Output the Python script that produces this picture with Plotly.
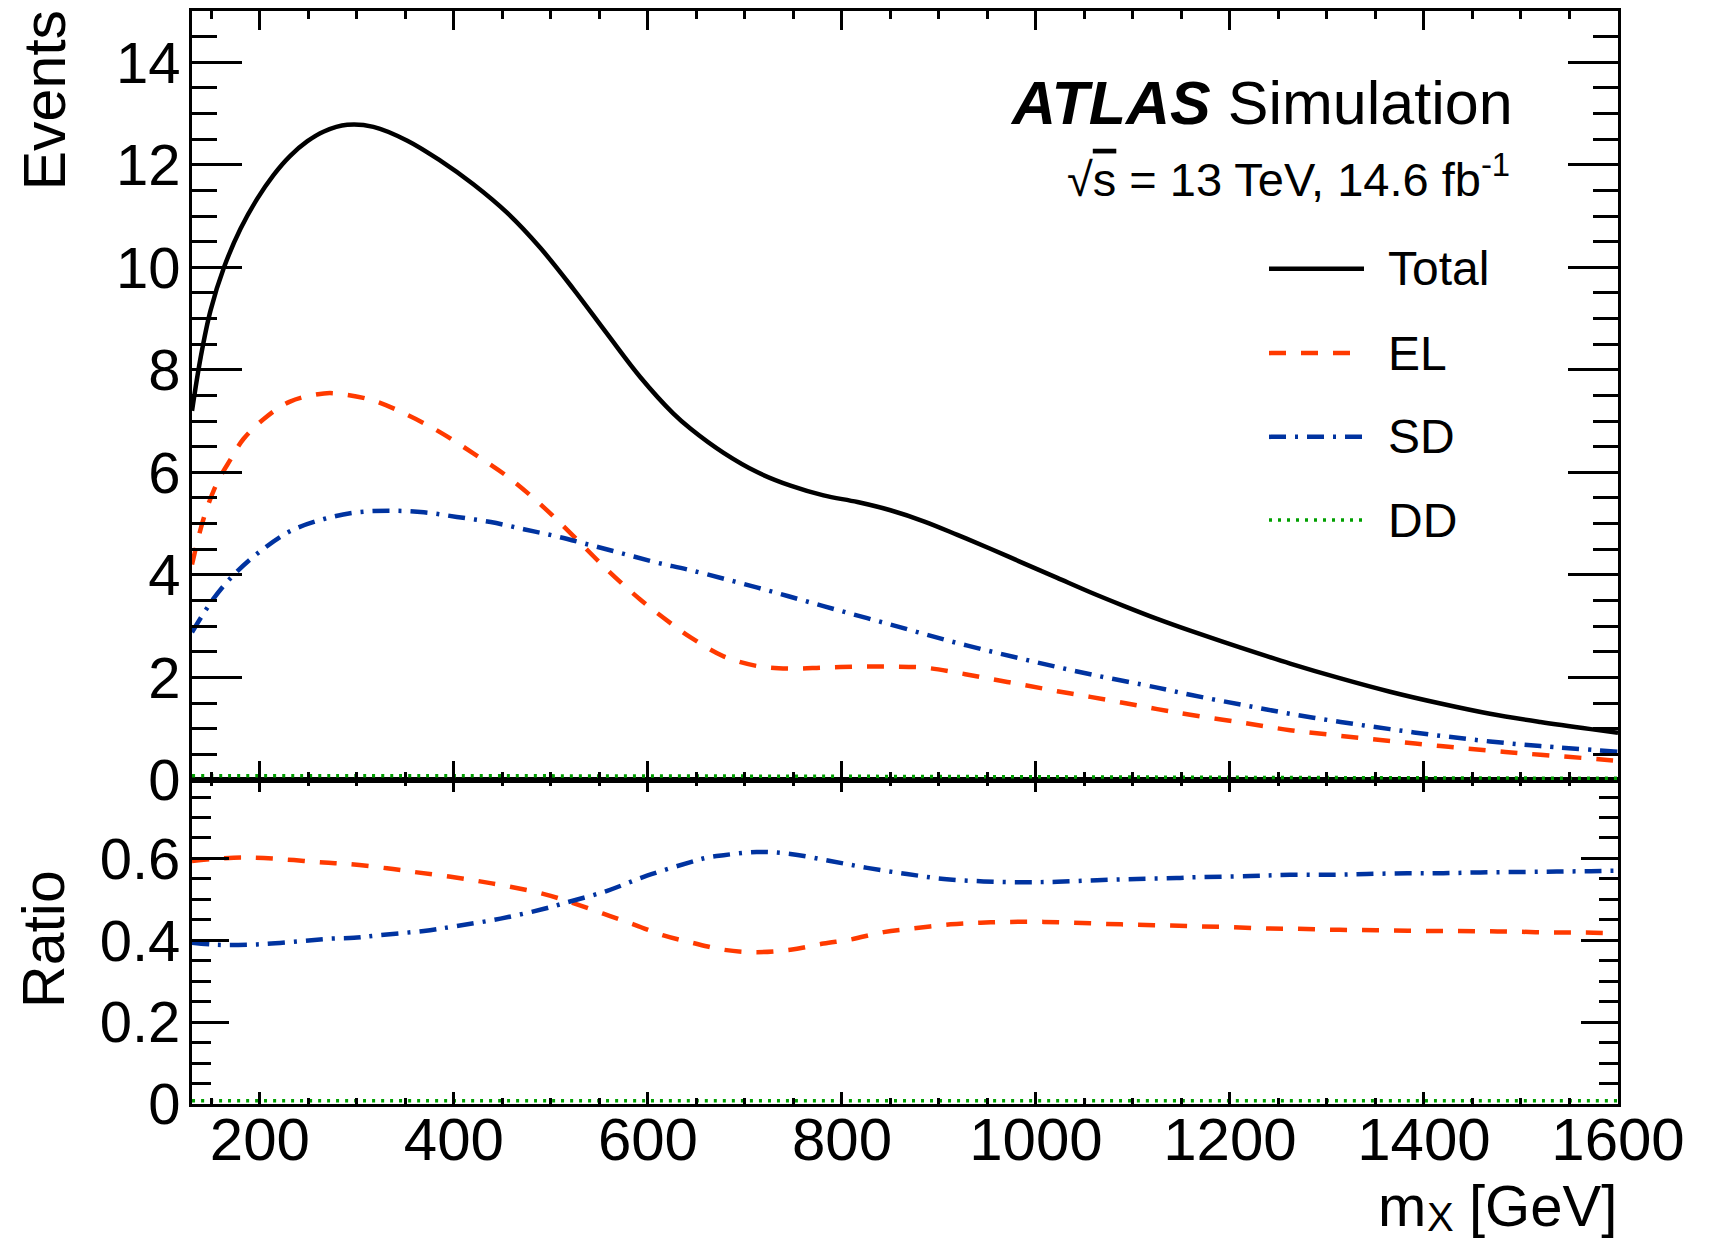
import plotly.graph_objects as go

# ---------------- data ----------------
mx_total = [130, 139, 149, 163, 180, 197, 214, 231, 249, 266, 290, 317, 352, 386, 420, 455, 489, 523,
            558, 592, 626, 644, 678, 713, 747, 781, 816, 850, 885, 919, 953, 988, 1022, 1056, 1091,
            1125, 1159, 1211, 1262, 1314, 1365, 1417, 1468, 1520, 1572, 1600]
ev_total = [7.2, 8.25, 9.15, 10.0, 10.75, 11.33, 11.8, 12.17, 12.46, 12.65, 12.78, 12.74, 12.47, 12.08,
            11.62, 11.06, 10.38, 9.58, 8.7, 7.86, 7.15, 6.85, 6.38, 6.0, 5.74, 5.55, 5.42, 5.26, 5.04,
            4.78, 4.51, 4.22, 3.94, 3.66, 3.39, 3.14, 2.91, 2.58, 2.27, 1.98, 1.72, 1.49, 1.29, 1.13,
            0.99, 0.92]

mx_el = [130, 142, 156, 170, 183, 204, 231, 266, 283, 317, 352, 386, 420, 455, 489, 523, 558, 592, 626,
         644, 678, 713, 747, 781, 816, 850, 885, 919, 953, 988, 1022, 1056, 1091, 1125, 1159, 1211,
         1262, 1314, 1365, 1417, 1468, 1520, 1589, 1600]
ev_el = [4.2, 5.1, 5.8, 6.26, 6.65, 7.04, 7.38, 7.54, 7.53, 7.4, 7.12, 6.78, 6.37, 5.92, 5.38, 4.76, 4.1,
         3.52, 3.02, 2.78, 2.41, 2.22, 2.17, 2.19, 2.21, 2.21, 2.19, 2.09, 1.97, 1.85, 1.73, 1.62, 1.50,
         1.38, 1.27, 1.12, 0.97, 0.86, 0.76, 0.66, 0.57, 0.49, 0.39, 0.37]

mx_sd = [130, 152, 173, 197, 231, 266, 300, 334, 369, 403, 438, 472, 506, 541, 575, 609, 644, 713, 781,
         850, 919, 988, 1056, 1125, 1159, 1211, 1262, 1314, 1365, 1417, 1468, 1520, 1600]
ev_sd = [2.88, 3.53, 4.0, 4.41, 4.85, 5.09, 5.22, 5.25, 5.22, 5.13, 5.03, 4.89, 4.75, 4.58, 4.41, 4.24,
         4.09, 3.75, 3.39, 3.03, 2.67, 2.35, 2.06, 1.80, 1.66, 1.47, 1.29, 1.13, 0.99, 0.86, 0.75, 0.66, 0.55]

mx_dd = [130, 400, 800, 1200, 1600]
ev_dd = [0.08, 0.08, 0.07, 0.05, 0.03]

mx_r_el = [130, 173, 204, 235, 266, 293, 331, 362, 395, 427, 458, 493, 523, 554, 585, 616, 644, 678, 712,
           747, 781, 809, 843, 877, 912, 943, 974, 1008, 1039, 1073, 1104, 1139, 1170, 1204, 1237, 1269,
           1302, 1335, 1367, 1400, 1432, 1465, 1498, 1532, 1565, 1600]
ratio_el = [0.594, 0.602, 0.601, 0.596, 0.590, 0.586, 0.576, 0.566, 0.556, 0.544, 0.531, 0.513, 0.491,
            0.465, 0.439, 0.412, 0.395, 0.377, 0.371, 0.377, 0.392, 0.402, 0.420, 0.430, 0.439, 0.443,
            0.445, 0.445, 0.443, 0.440, 0.438, 0.436, 0.434, 0.432, 0.429, 0.428, 0.426, 0.425, 0.424,
            0.423, 0.423, 0.422, 0.421, 0.419, 0.419, 0.417]

mx_r_sd = [130, 156, 197, 242, 273, 297, 321, 369, 403, 448, 493, 517, 558, 599, 644, 661, 678, 712, 747,
           788, 826, 867, 905, 946, 987, 1022, 1063, 1104, 1145, 1163, 1221, 1262, 1304, 1341, 1383,
           1420, 1458, 1499, 1537, 1572, 1600]
ratio_sd = [0.394, 0.389, 0.390, 0.398, 0.404, 0.406, 0.412, 0.423, 0.435, 0.453, 0.477, 0.493, 0.521,
            0.558, 0.591, 0.602, 0.608, 0.616, 0.611, 0.594, 0.577, 0.562, 0.550, 0.544, 0.542, 0.543,
            0.547, 0.550, 0.552, 0.554, 0.557, 0.560, 0.560, 0.562, 0.564, 0.564, 0.566, 0.567, 0.568,
            0.569, 0.570]

mx_r_dd = [130, 600, 1100, 1600]
ratio_dd = [0.008, 0.008, 0.008, 0.008]

labels = ["Total", "EL", "SD", "DD"]
x_ticks = [200, 400, 600, 800, 1000, 1200, 1400, 1600]

# ---------------- styling ----------------
W, H = 1711, 1242
ML, MR, MT, MB = 192, 93, 8, 138
PW, PH = W - ML - MR, H - MT - MB
SPLIT = 779  # pixel row of the boundary between the panels
upper_dom = [(H - MB - SPLIT) / PH, 1.0]
lower_dom = [0.0, (H - MB - SPLIT) / PH]

FONT = "Liberation Sans, Arial, Helvetica, sans-serif"
C_TOT, C_EL, C_SD, C_DD = "black", "#ff3a00", "#0033a0", "#00a000"
D_EL, D_SD, D_DD = "17px,15px", "17px,9px,3px,9px", "3px,6px"
LW = 4.5
SMOOTH = 1.0


def px(x):
    return (x - ML) / PW


def py(y):
    return (H - MB - y) / PH


fig = go.Figure()
styles = [(C_TOT, "solid", LW), (C_EL, D_EL, LW), (C_SD, D_SD, LW), (C_DD, D_DD, 3.5)]
for (xs, ys), (c, d, w), name in zip([(mx_total, ev_total), (mx_el, ev_el), (mx_sd, ev_sd), (mx_dd, ev_dd)],
                                     styles, labels):
    fig.add_trace(go.Scatter(x=xs, y=ys, mode="lines", name=name, xaxis="x2", yaxis="y2",
                             line=dict(color=c, dash=d, width=w, shape="spline", smoothing=SMOOTH),
                             showlegend=False))
for (xs, ys), (c, d, w), name in zip([(mx_r_el, ratio_el), (mx_r_sd, ratio_sd), (mx_r_dd, ratio_dd)],
                                     styles[1:], labels[1:]):
    fig.add_trace(go.Scatter(x=xs, y=ys, mode="lines", name=name + " ratio", xaxis="x", yaxis="y",
                             line=dict(color=c, dash=d, width=w, shape="spline", smoothing=SMOOTH),
                             showlegend=False))

common_axis = dict(showline=True, linewidth=3, linecolor="black", mirror="allticks",
                   showgrid=False, zeroline=False, ticks="inside", tickcolor="black", tickwidth=2.5)

fig.update_layout(
    width=W, height=H, margin=dict(l=ML, r=MR, t=MT, b=MB),
    paper_bgcolor="white", plot_bgcolor="white",
    font=dict(family=FONT, color="black"),
    showlegend=False,
    xaxis=dict(**common_axis, anchor="y", domain=[0, 1], range=[130, 1600],
               tickmode="array", tickvals=x_ticks, ticktext=[str(v) for v in x_ticks],
               ticklen=12, tickfont=dict(size=60, family=FONT), ticklabelstandoff=-19,
               minor=dict(ticks="inside", dtick=50, tick0=0, ticklen=6, tickwidth=2.5, tickcolor="black")),
    xaxis2=dict(**common_axis, anchor="y2", matches="x", range=[130, 1600],
                tickmode="array", tickvals=x_ticks, showticklabels=False, ticklen=19,
                minor=dict(ticks="inside", dtick=50, tick0=0, ticklen=8, tickwidth=2.5, tickcolor="black")),
    yaxis=dict(**common_axis, anchor="x", domain=lower_dom, range=[0, 0.792],
               tickmode="linear", tick0=0, dtick=0.2, ticklen=37, tickfont=dict(size=58, family=FONT),
               ticklabelstandoff=-3,
               minor=dict(ticks="inside", dtick=0.05, tick0=0, ticklen=19, tickwidth=2.5, tickcolor="black")),
    yaxis2=dict(**common_axis, anchor="x2", domain=upper_dom, range=[0, 15],
                tickmode="linear", tick0=0, dtick=2, ticklen=50, tickfont=dict(size=58, family=FONT),
                ticklabelstandoff=-3,
                minor=dict(ticks="inside", dtick=0.5, tick0=0, ticklen=25, tickwidth=2.5, tickcolor="black")),
)

# legend drawn as short line samples + labels
leg_y = [266.5, 351, 435, 518.5]
for (c, d, w), yy, lab in zip(styles, leg_y, labels):
    fig.add_shape(type="line", xref="paper", yref="paper", x0=px(1269), x1=px(1364), y0=py(yy), y1=py(yy),
                  line=dict(color=c, dash=d, width=w))
    fig.add_annotation(text=lab, xref="paper", yref="paper", x=px(1386), y=py(yy), xanchor="left",
                       yanchor="middle", showarrow=False, font=dict(size=48, family=FONT, color="black"))

fig.add_annotation(text="<b><i>ATLAS</i></b> Simulation", xref="paper", yref="paper", x=px(1515), y=py(136),
                   xanchor="right", yanchor="bottom", showarrow=False, font=dict(size=61, family=FONT))
fig.add_annotation(text="√<span style='text-decoration:overline'>s</span> = 13 TeV, 14.6 fb<sup>-1</sup>",
                   xref="paper", yref="paper", x=px(1512), y=py(206), xanchor="right", yanchor="bottom",
                   showarrow=False, font=dict(size=47, family=FONT))
fig.add_annotation(text="Events", xref="paper", yref="paper", x=px(44.5), y=py(98), xanchor="center",
                   yanchor="middle", textangle=-90, showarrow=False, font=dict(size=59, family=FONT))
fig.add_annotation(text="Ratio", xref="paper", yref="paper", x=px(44.5), y=py(939), xanchor="center",
                   yanchor="middle", textangle=-90, showarrow=False, font=dict(size=59, family=FONT))
# x-axis title m_X [GeV], assembled from three pieces so the subscript sits low like the original
fig.add_annotation(text="[GeV]", xref="paper", yref="paper", x=px(1619), y=py(1240.5),
                   xanchor="right", yanchor="bottom", showarrow=False, font=dict(size=58, family=FONT))
fig.add_annotation(text="m", xref="paper", yref="paper", x=px(1428), y=py(1240.5),
                   xanchor="right", yanchor="bottom", showarrow=False, font=dict(size=58, family=FONT))
fig.add_annotation(text="X", xref="paper", yref="paper", x=px(1425), y=py(1241.5),
                   xanchor="left", yanchor="bottom", showarrow=False, font=dict(size=40, family=FONT))

fig.write_html("out.html")
